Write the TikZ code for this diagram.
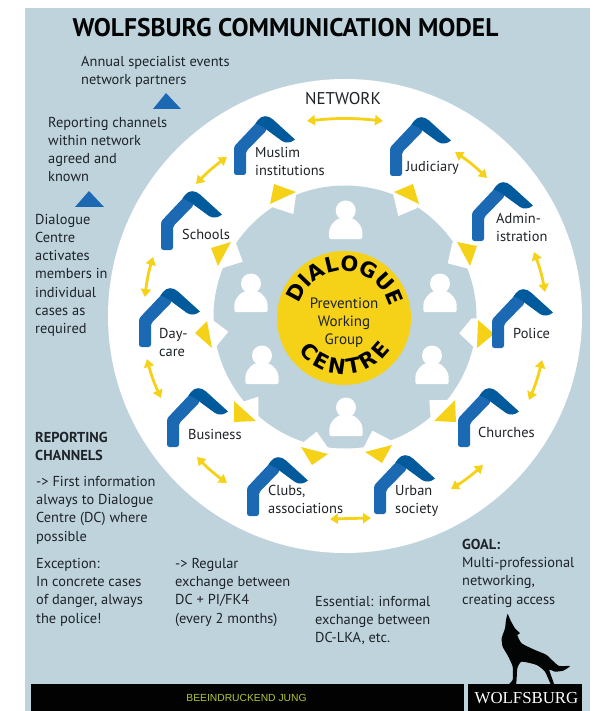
\documentclass[tikz,border=0pt]{standalone}
\usepackage{fontspec}
\setmainfont{PT Sans}
\newfontfamily\dlgfont{DejaVu Sans}[UprightFont=* Bold]
\newfontfamily\slabfont{Liberation Serif}
\newfontfamily\tagfont{Liberation Sans}
\usetikzlibrary{arrows.meta,calc,decorations.text}
\definecolor{panel}{HTML}{BFD3DD}
\definecolor{hblue}{HTML}{1B68B3}
\definecolor{hdark}{HTML}{005A9C}
\definecolor{ylw}{HTML}{F5D218}
\definecolor{ink}{HTML}{1E2328}
\definecolor{lime}{HTML}{B4C832}
\newcommand{\notch}[3]{\fill[white] (#1) -- (#2) -- (#3) -- ($(345,317)!1.12!(#3)$) -- ($(345,317)!1.12!(#1)$) -- cycle;}
\newcommand{\ytri}[3]{\fill[ylw] (#1) -- (#2) -- (#3) -- cycle;}
\tikzset{
  x=1pt,y=-1pt,
  txt/.style={anchor=north west,inner sep=0pt,align=left,text=ink,yshift=-4pt,font=\fontsize{14.4}{18.2}\selectfont},
  bluetri/.style={fill=hblue},
  dbl/.style={draw=ylw,line width=2.8pt,{Triangle[width=10pt,length=8pt]}-{Triangle[width=10pt,length=8pt]}},
  house/.pic={
    \fill[hblue,rounded corners=2.5pt] (0,0) -- (0,-28.5) -- (25,-55) -- (30,-50) -- (33,-45) -- (12,-23.5) -- (12,0) -- cycle;
    \fill[hdark] (21.5,-51.5) .. controls (26,-50) and (30,-48) .. (33,-45) -- (48,-34) .. controls (52,-31.5) and (57,-32) .. (61,-35.5) -- (39,-55.5) .. controls (34,-60) and (28,-60) .. (24,-55) -- cycle;
  },
  person/.pic={
    \fill[white] (0,-28.5) circle (10);
    \fill[white,rounded corners=2pt] (-16.7,0) -- (-16.7,-5) .. controls (-16.7,-12) and (-12,-18) .. (-6,-21) -- (6,-21) .. controls (12,-18) and (16.7,-12) .. (16.7,-5) -- (16.7,0) -- cycle;
  },
}
\begin{document}
\begin{tikzpicture}
\useasboundingbox (0,0) rectangle (594,711);
\fill[white] (0,0) rectangle (594,711);
\fill[panel] (25,8) rectangle (590,711);
\fill[white] (345,316) circle (237);
\fill[panel] (345,317) circle (131.5);
% notches
\notch{272.7,207.3}{293.3,214}{296,195}
\notch{393.3,195}{398.3,216}{416.7,208.3}
\notch{452.3,243}{447.7,263.3}{466.7,268.3}
\notch{471.7,318.3}{459.3,333.3}{473.3,346.7}
\notch{446.7,400}{429.3,400}{430.7,418.3}
\notch{391.7,440.7}{372.3,430.7}{363.3,448.3}
\notch{328.3,448.3}{316.7,431.7}{300,445}
\notch{238.3,403.3}{258.3,396.7}{258.3,418.3}
\notch{212.7,320}{228.3,331.7}{216,346.7}
\notch{236,243.3}{242.7,261.7}{221.7,268.3}
% yellow triangles
\ytri{274,184}{296,192}{270,204}
\ytri{211,248}{231,242}{218,266}
\ytri{413,184}{394,192}{419,204}
\ytri{457,242}{477,246}{470,266}
\ytri{478,320}{494,334}{477,348}
\ytri{455,400}{456,422}{434,421}
\ytri{365,452}{392,445}{382,463}
\ytri{301,447}{328,454}{312,465}
\ytri{234,401}{256,421}{234,422}
\ytri{207,321}{212,348}{195,333}
% persons
\pic at (345.7,239) {person};
\pic at (251,312) {person};
\pic at (440,312) {person};
\pic at (262,384) {person};
\pic at (432,384) {person};
\pic at (346,436) {person};
% centre
\node[circle,fill=ylw,minimum size=134pt,inner sep=0pt] (dc) at (344,318) {};
\path[decorate,decoration={text along path,text align={fit to path},text={|\dlgfont\fontsize{21}{21}\selectfont\color{black}|DIALOGUE}}]
  (344,318) ++(-162:47) arc[start angle=-162,end angle=-18,radius=47];
\path[decorate,decoration={text along path,text align={fit to path},text={|\dlgfont\fontsize{21}{21}\selectfont\color{black}|CENTRE}}]
  (344,318) ++(-216:56) arc[start angle=-216,end angle=-326,radius=56];
\node[txt,align=center,anchor=north,font=\fontsize{15}{18}\selectfont] (pwg) at (344,294) {Prevention\\Working\\Group};
% houses
\pic at (234,175) {house};
\pic at (390,176) {house};
\pic at (472,241) {house};
\pic at (492,348) {house};
\pic at (458,447) {house};
\pic at (374,514) {house};
\pic at (247,516) {house};
\pic at (167,447) {house};
\pic at (139,347) {house};
\pic at (161,250) {house};
% house labels
\node[txt] (muslim) at (255,143) {Muslim\\institutions};
\node[txt] (judiciary) at (406,157) {Judiciary};
\node[txt] (admin) at (496,209) {Admin-\\istration};
\node[txt] (police) at (513,324) {Police};
\node[txt] (churches) at (478,423) {Churches};
\node[txt] (urban) at (395,481) {Urban\\society};
\node[txt] (clubs) at (268,481) {Clubs,\\associations};
\node[txt] (business) at (188,425) {Business};
\node[txt] (daycare) at (159,324) {Day-\\care};
\node[txt] (schools) at (182,225) {Schools};
% arrow ends
\coordinate (n1) at (307,121); \coordinate (n2) at (383,121);
\coordinate (a1) at (227,157); \coordinate (a2) at (196,184);
\coordinate (b1) at (455,152); \coordinate (b2) at (487,178);
\coordinate (c1) at (534,252); \coordinate (c2) at (545,292);
\coordinate (d1) at (542,360); \coordinate (d2) at (529,400);
\coordinate (e1) at (483,465); \coordinate (e2) at (451,489);
\coordinate (f1) at (330,519); \coordinate (f2) at (371,518);
\coordinate (g1) at (227,483); \coordinate (g2) at (197,457);
\coordinate (h1) at (161,398); \coordinate (h2) at (147,359);
\coordinate (i1) at (145,297); \coordinate (i2) at (153,257);
\draw[dbl] (n1) to[bend left=6] (n2);
\draw[dbl] (a1) to[bend right=5] (a2);
\draw[dbl] (b1) to[bend left=5] (b2);
\draw[dbl] (c1) to[bend left=5] (c2);
\draw[dbl] (d1) to[bend left=5] (d2);
\draw[dbl] (e1) to[bend left=5] (e2);
\draw[dbl] (f1) -- (f2);
\draw[dbl] (g1) to[bend left=5] (g2);
\draw[dbl] (h1) to[bend left=5] (h2);
\draw[dbl] (i1) to[bend left=5] (i2);
% blue triangles
\fill[bluetri] (153,109) -- (166,93) -- (181,109) -- cycle;
\fill[bluetri] (75,207) -- (89,191) -- (104,207) -- cycle;
% texts
\node[txt,font=\bfseries\fontsize{25.5}{28}\selectfont,anchor=center,text=black!90!ink] (title) at (285.5,24) {WOLFSBURG COMMUNICATION MODEL};
\node[txt,font=\fontsize{17}{18}\selectfont,anchor=center] (network) at (343,95) {NETWORK};
\node[txt] (annual) at (81,52) {Annual specialist events\\network partners};
\node[txt] (report) at (48,113) {Reporting channels\\within network\\agreed and\\known};
\node[txt] (activ) at (35,210) {Dialogue\\Centre\\activates\\members in\\individual\\cases as\\required};
\node[txt] (rc) at (35,428) {\textbf{REPORTING}\\\textbf{CHANNELS}};
\node[txt] (first) at (36,472) {-> First information\\always to Dialogue\\Centre (DC) where\\possible};
\node[txt] (exc) at (36,554) {Exception:\\In concrete cases\\of danger, always\\the police!};
\node[txt] (reg) at (175,554) {-> Regular\\exchange between\\DC + PI/FK4\\(every 2 months)};
\node[txt] (ess) at (315,592) {Essential: informal\\exchange between\\DC-LKA, etc.};
\node[txt] (goal) at (462,535) {\textbf{GOAL:}\\Multi-professional\\networking,\\creating access};
% wolf
\begin{scope}[shift={(480,600)},x=0.3333pt,y=-0.3333pt]
\fill[black!90!ink] plot[smooth cycle,tension=0.35] coordinates {(83,42)(92,62)(105,85)(120,100)(112,105)(125,130)(165,150)(200,165)(235,197)(270,198)(250,212)(225,215)(208,210)(222,252)(212,252)(195,215)(170,195)(125,185)(112,205)(108,252)(88,252)(98,240)(98,200)(85,170)(68,140)(65,115)(75,85)(78,60)};
\end{scope}
% footer
\fill[black!95!ink] (31,684) rectangle (464,711);
\fill[black!95!ink] (468,684) rectangle (582,711);
\node[inner sep=0pt,text=lime,font=\tagfont\fontsize{10.3}{11}\selectfont] (tag) at (246.5,697.5) {BEEINDRUCKEND JUNG};
\node[inner sep=0pt,text=white,font=\slabfont\fontsize{16.8}{18}\selectfont] (wb) at (526.5,698) {WOLFSBURG};
\end{tikzpicture}
\end{document}
